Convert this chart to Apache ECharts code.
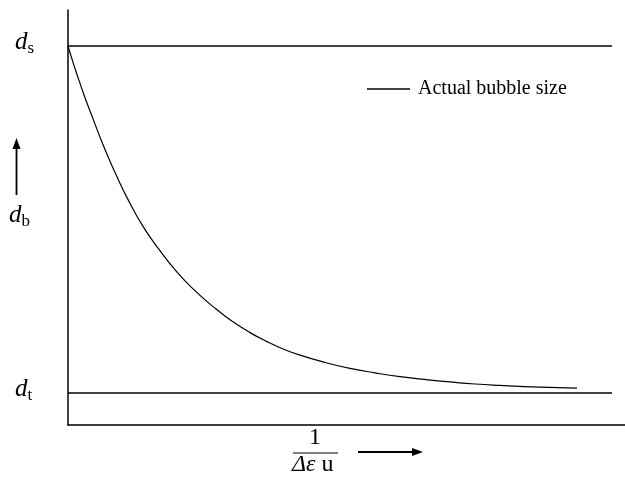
<!DOCTYPE html>
<html>
<head>
<meta charset="utf-8">
<script src="https://cdn.jsdelivr.net/npm/echarts@6/dist/echarts.min.js"></script>
<style>
  html, body { margin: 0; padding: 0; background: #fff; }
  #chart { width: 625px; height: 477px; }
</style>
</head>
<body>
<div id="chart"></div>
<script>
// x: arbitrary 1/(Δε u) units, 100 = end of the limit lines
// y: normalised bubble size, 0 = d_t, 1 = d_s
var curveX = [0, 0.74, 1.65, 3.13, 4.6, 6.07, 7.72, 9.19, 10.85, 13.79, 16.91, 19.85, 22.98, 27.21, 30.33,
  33.46, 36.58, 39.52, 42.65, 47.24, 51.84, 56.43, 61.03, 65.63, 70.22, 74.82, 79.41, 86.76, 93.57];
var curveY = [1.0, 0.962, 0.918, 0.851, 0.79, 0.73, 0.668, 0.617, 0.563, 0.48, 0.41, 0.352, 0.3, 0.242, 0.205,
  0.174, 0.148, 0.127, 0.109, 0.088, 0.071, 0.058, 0.047, 0.039, 0.032, 0.026, 0.022, 0.017, 0.014];
var limitX = [0, 100];
var dsLevel = 1;
var dtLevel = 0;
var seriesName = 'Actual bubble size';

var serif = '"Liberation Serif", "DejaVu Serif", serif';

var chart = echarts.init(document.getElementById('chart'));

var curve = curveX.map(function (x, i) { return [x, curveY[i]]; });
var topLine = limitX.map(function (x) { return [x, dsLevel]; });
var bottomLine = limitX.map(function (x) { return [x, dtLevel]; });

var axisCommon = {
  type: 'value',
  axisLine: { show: true, onZero: false, lineStyle: { color: '#000', width: 1.5 } },
  axisTick: { show: false },
  axisLabel: { show: false },
  splitLine: { show: false }
};

// label with italic symbol and upright subscript
function symLabel(x, y, sub) {
  return {
    type: 'text',
    left: x,
    top: y,
    style: {
      text: '{d|d}{s|' + sub + '}',
      rich: {
        d: { fontFamily: serif, fontStyle: 'italic', fontSize: 25, fill: '#000', verticalAlign: 'bottom' },
        s: { fontFamily: serif, fontSize: 17, fill: '#000', verticalAlign: 'bottom', padding: [0, 0, -2, 0] }
      }
    }
  };
}

var option = {
  animation: false,
  backgroundColor: '#fff',
  grid: { left: 68, right: 0, top: 10, bottom: 52 },
  xAxis: Object.assign({ min: 0, max: 102.39 }, axisCommon),
  yAxis: Object.assign({ min: -0.0922, max: 1.1037 }, axisCommon),
  legend: {
    data: [seriesName],
    left: 367,
    top: 78,
    padding: 0,
    icon: 'rect',
    itemWidth: 43,
    itemHeight: 1.5,
    itemStyle: { color: '#000' },
    textStyle: { fontFamily: serif, fontSize: 20, color: '#000', lineHeight: 22, padding: [0, 0, 0, 3] }
  },
  series: [
    {
      name: seriesName,
      type: 'line',
      data: curve,
      smooth: true,
      showSymbol: false,
      lineStyle: { color: '#000', width: 1.2 },
      itemStyle: { color: '#000' }
    },
    {
      name: 'ds',
      type: 'line',
      data: topLine,
      showSymbol: false,
      lineStyle: { color: '#000', width: 1.5 }
    },
    {
      name: 'dt',
      type: 'line',
      data: bottomLine,
      showSymbol: false,
      lineStyle: { color: '#000', width: 1.5 }
    }
  ],
  graphic: [
    symLabel(15, 30, 's'),
    symLabel(9, 203, 'b'),
    symLabel(15, 377, 't'),
    // up arrow next to d_b
    { type: 'line', shape: { x1: 16.5, y1: 195, x2: 16.5, y2: 146 }, style: { stroke: '#000', lineWidth: 1.8 } },
    { type: 'polygon', shape: { points: [[16.5, 138], [12.5, 149], [20.5, 149]] }, style: { fill: '#000' } },
    // x axis label: 1 / (Δε u)
    {
      type: 'text', left: 309, top: 426,
      style: { text: '1', fontFamily: serif, fontSize: 24, fill: '#000' }
    },
    { type: 'line', shape: { x1: 293, y1: 453, x2: 338, y2: 453 }, style: { stroke: '#000', lineWidth: 1 } },
    {
      type: 'text', left: 292, top: 453,
      style: {
        text: '{i|Δε}{u| u}',
        rich: {
          i: { fontFamily: serif, fontStyle: 'italic', fontSize: 24, fill: '#000' },
          u: { fontFamily: serif, fontSize: 24, fill: '#000' }
        }
      }
    },
    // right arrow
    { type: 'line', shape: { x1: 358, y1: 452, x2: 414, y2: 452 }, style: { stroke: '#000', lineWidth: 1.8 } },
    { type: 'polygon', shape: { points: [[423, 452], [412, 448], [412, 456]] }, style: { fill: '#000' } }
  ]
};

chart.setOption(option);
</script>
</body>
</html>
